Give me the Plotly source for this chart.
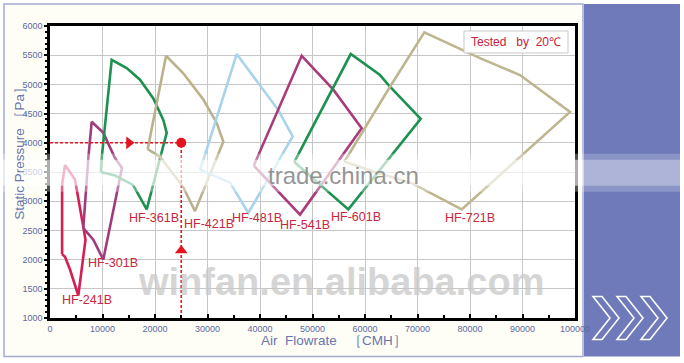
import plotly.graph_objects as go

# ---------------- data ----------------
models = ["HF-241B", "HF-301B", "HF-361B", "HF-421B", "HF-481B", "HF-541B", "HF-601B", "HF-721B"]

hf241_x = [2300, 2300, 2860, 4760, 6340, 6760, 5390, 3810, 2860, 2300]
hf241_y = [2090, 3280, 3620, 3370, 2560, 2340, 1385, 1830, 2050, 2090]

hf301_x = [6340, 7300, 7940, 10150, 12380, 13710, 10150, 8250, 6340]
hf301_y = [2540, 3740, 4360, 4170, 3740, 3570, 2000, 2340, 2540]

hf361_x = [9710, 9850, 11750, 14610, 17140, 19680, 21580, 22230, 18420, 15810, 12380, 9710]
hf361_y = [3500, 3740, 5420, 5280, 5080, 4760, 4390, 4170, 2860, 3280, 3440, 3500]

hf421_x = [18610, 22100, 25390, 29200, 31750, 33010, 27620, 25330, 20950, 18610]
hf421_y = [3890, 5490, 5190, 4740, 4340, 4020, 2830, 3250, 3760, 3890]

hf481_x = [28570, 29330, 35560, 38720, 43490, 46230, 37770, 34290, 28570]
hf481_y = [3540, 3740, 5520, 5130, 4560, 4110, 2800, 3320, 3540]

hf541_x = [38820, 47940, 53960, 59370, 47620, 38820]
hf541_y = [3610, 5490, 4910, 4250, 2770, 3610]

hf601_x = [46530, 57280, 62860, 64760, 70610, 56820, 46530]
hf601_y = [3670, 5520, 5160, 4960, 4410, 2860, 3670]

hf721_x = [56000, 56510, 64760, 71300, 81900, 89520, 99050, 78420, 68900, 61900, 56000]
hf721_y = [3680, 3740, 4960, 5890, 5450, 5160, 4530, 2860, 3310, 3500, 3680]

label_x = [6990, 12000, 19810, 30190, 39370, 48570, 58290, 80000]
label_y = [1316, 1949, 2718, 2615, 2709, 2598, 2735, 2718]

# operating point guide
duty_flow = 25000
duty_pressure = 4000
arrow_h_flow = 15050
arrow_v_pressure = 2154

x_ticks = [0, 10000, 20000, 30000, 40000, 50000, 60000, 70000, 80000, 90000, 100000]
y_ticks = [1000, 1500, 2000, 2500, 3000, 3500, 4000, 4500, 5000, 5500, 6000]

# ---------------- styles ----------------
colors = ["#d41f55", "#a03c7c", "#1c9150", "#b9b28d", "#a9d3ea", "#a83c7a", "#1c9150", "#bdb68f"]
series_x = [hf241_x, hf301_x, hf361_x, hf421_x, hf481_x, hf541_x, hf601_x, hf721_x]
series_y = [hf241_y, hf301_y, hf361_y, hf421_y, hf481_y, hf541_y, hf601_y, hf721_y]

W, H = 684, 363
L, R, T, B = 50, 575, 26, 318.5
FONT = "Liberation Sans, Arial"


def px(xp):
    return (xp - L) / (R - L)


def py(yp):
    return (B - yp) / (B - T)


fig = go.Figure()

for name, xs, ys, c in zip(models, series_x, series_y, colors):
    fig.add_trace(go.Scatter(x=xs, y=ys, mode="lines", name=name,
                             line=dict(color=c, width=2.6), hoverinfo="skip"))

red = "#e3141e"
fig.add_trace(go.Scatter(x=[0, duty_flow], y=[duty_pressure, duty_pressure], mode="lines",
                         line=dict(color=red, width=1.6, dash="3px,2px")))
fig.add_trace(go.Scatter(x=[duty_flow, duty_flow], y=[1000, duty_pressure], mode="lines",
                         line=dict(color=red, width=1.6, dash="3px,2px")))
fig.add_trace(go.Scatter(x=[duty_flow], y=[duty_pressure], mode="markers",
                         marker=dict(color=red, size=10)))
fig.add_trace(go.Scatter(x=[arrow_h_flow], y=[duty_pressure], mode="markers",
                         marker=dict(color=red, size=11, symbol="triangle-right")))
fig.add_trace(go.Scatter(x=[duty_flow], y=[arrow_v_pressure], mode="markers",
                         marker=dict(color=red, size=11, symbol="triangle-up")))


def ann(x, y, text, size, color, xref="paper", yref="paper", **kw):
    return dict(x=x, y=y, xref=xref, yref=yref, text=text, showarrow=False,
                xanchor="center", yanchor="middle",
                font=dict(family=FONT, size=size, color=color), **kw)


annotations = []
for name, lx, ly in zip(models, label_x, label_y):
    annotations.append(ann(lx, ly, name, 12.5, "#c8283a", xref="x", yref="y"))

# watermark text
annotations.append(ann(px(341), py(282), "<b>winfan.en.alibaba.com</b>", 38, "rgba(200,200,200,0.75)"))

# axis titles
annotations.append(ann(px(20), py(150), "Static Pressure\u00a0［Pa］", 13.5, "#6a76ac", textangle=-90))
annotations.append(ann(px(334), py(341), "Air\u00a0\u00a0Flowrate\u00a0\u00a0\u00a0［CMH］", 13.5, "#6a76ac"))

# legend box text
annotations.append(ann(px(516), py(42), "Tested\u00a0\u00a0\u00a0by\u00a0\u00a020℃", 12, "#c8203a"))

shapes = []
# card background and border
shapes.append(dict(type="rect", xref="paper", yref="paper", x0=px(4), x1=px(583), y0=py(357), y1=py(4),
                   fillcolor="#fefef7", line=dict(color="#a4aacf", width=1.5), layer="below"))
# white plot area
shapes.append(dict(type="rect", xref="paper", yref="paper", x0=0, x1=1, y0=0, y1=1,
                   fillcolor="white", line=dict(width=0), layer="below"))
# right panel
shapes.append(dict(type="rect", xref="paper", yref="paper", x0=px(584), x1=px(680), y0=py(357), y1=py(4),
                   fillcolor="#6e7ab9", line=dict(width=0), layer="below"))
# chevrons
for x0 in [593, 617, 641]:
    pts = [(x0, 297), (x0 + 9, 297), (x0 + 26, 318.5), (x0 + 9, 340), (x0, 340), (x0 + 17, 318.5)]
    path = "M " + " L ".join(f"{px(a):.5f},{py(b):.5f}" for a, b in pts) + " Z"
    shapes.append(dict(type="path", xref="paper", yref="paper", path=path,
                       line=dict(color="white", width=1.6), fillcolor="rgba(0,0,0,0)", layer="above"))
# legend box
shapes.append(dict(type="rect", xref="paper", yref="paper", x0=px(464), x1=px(568), y0=py(53), y1=py(31),
                   fillcolor="white", line=dict(color="#c9c9c9", width=1), layer="above"))
# watermark band (soft)
for (y0, y1, op_c, op_p) in [(154, 192, 0.3, 0.2), (160, 186, 0.55, 0.3)]:
    shapes.append(dict(type="rect", xref="paper", yref="paper", x0=px(0), x1=px(583), y0=py(y1), y1=py(y0),
                       fillcolor=f"rgba(255,255,255,{op_c})", line=dict(width=0), layer="above"))
    shapes.append(dict(type="rect", xref="paper", yref="paper", x0=px(583), x1=px(684), y0=py(y1), y1=py(y0),
                       fillcolor=f"rgba(255,255,255,{op_p})", line=dict(width=0), layer="above"))

annotations.append(ann(px(343), py(176), "trade.china.cn", 24, "rgba(130,130,130,0.85)"))

axis_font = dict(family=FONT, size=9, color="#5a68a2")

fig.update_layout(
    width=W, height=H,
    margin=dict(l=L, r=W - R, t=T, b=H - B, pad=0),
    paper_bgcolor="white", plot_bgcolor="rgba(0,0,0,0)",
    showlegend=False,
    shapes=shapes, annotations=annotations,
    xaxis=dict(range=[0, 100000], tickvals=x_ticks, ticktext=[str(v) for v in x_ticks],
               showgrid=True, gridcolor="#c6c6c6", gridwidth=1, zeroline=False,
               showline=True, linecolor="black", linewidth=2.5, mirror=True,
               ticks="inside", ticklen=4, tickcolor="black", tickwidth=1.5,
               minor=dict(dtick=5000, ticks="inside", ticklen=3, tickcolor="black", showgrid=False),
               tickfont=axis_font),
    yaxis=dict(range=[1000, 6000], tickvals=y_ticks, ticktext=[str(v) for v in y_ticks],
               showgrid=True, gridcolor="#c6c6c6", gridwidth=1, zeroline=False,
               showline=True, linecolor="black", linewidth=2.5, mirror=True,
               ticks="outside", ticklen=3, tickcolor="black", tickwidth=1.5,
               minor=dict(dtick=100, ticks="outside", ticklen=2, tickcolor="black", showgrid=False),
               tickfont=axis_font),
)

fig.write_html("out.html")
